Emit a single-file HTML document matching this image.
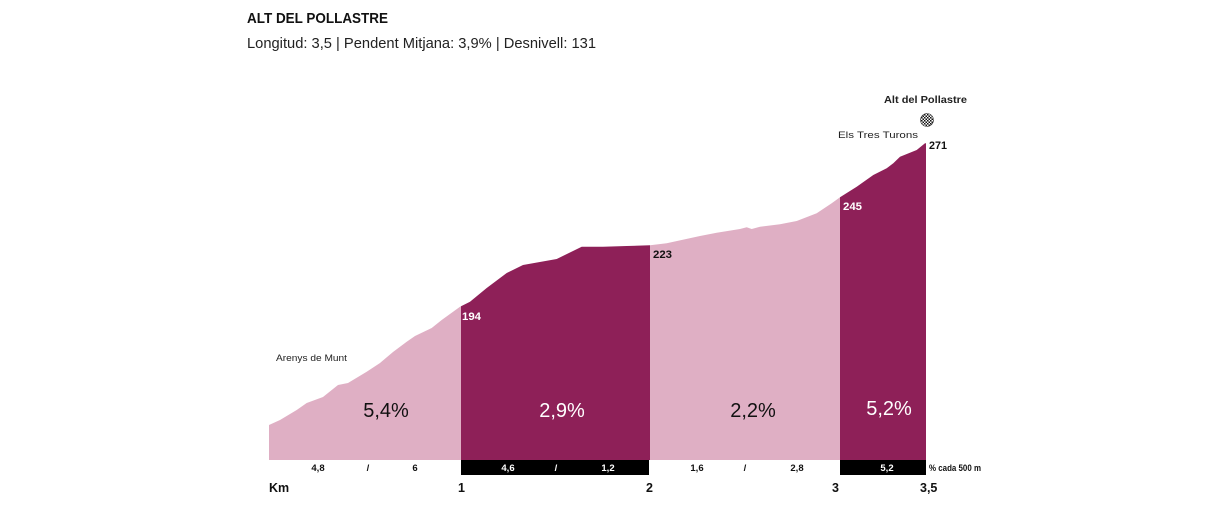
<!DOCTYPE html>
<html><head><meta charset="utf-8"><style>
html,body{margin:0;padding:0;background:#fff;width:1222px;height:512px;overflow:hidden}
svg{display:block}
text{font-family:"Liberation Sans",sans-serif}
</style></head><body>
<svg width="1222" height="512" viewBox="0 0 1222 512" xmlns="http://www.w3.org/2000/svg">
<defs>
<clipPath id="prof"><path d="M269,425 L280,420 L296.7,410 L306.7,403 L323,397 L338,385 L348,383 L366.7,371.7 L380,363 L393,352 L406.7,341.7 L415,336 L431.7,328 L441.7,320 L460,306.7 L470,301.7 L486.7,288 L506.7,273 L523,265 L556.7,259 L581.7,246.7 L603,246.7 L626.7,246 L650,245.3 L666.7,243.3 L700,236 L716.7,232.7 L740,229 L746.7,227.3 L751.7,229 L760,226.7 L780,224.3 L796.7,221 L816.7,213.3 L831.7,203.3 L840,197.3 L856.7,186.7 L873.3,175 L886.7,168.3 L893.3,163.3 L900,156.7 L916.7,150 L925,143.3 L926,143.3 L926,460 L269,460 Z"/></clipPath>
<pattern id="chk" width="3" height="3" patternUnits="userSpaceOnUse"><rect width="3" height="3" fill="#fff"/><rect width="1.5" height="1.5" fill="#111"/><rect x="1.5" y="1.5" width="1.5" height="1.5" fill="#111"/></pattern>
</defs>
<text x="247" y="23" font-size="15" font-weight="bold" fill="#111" textLength="141" lengthAdjust="spacingAndGlyphs">ALT DEL POLLASTRE</text>
<text x="247" y="48" font-size="14.5" fill="#222" textLength="349" lengthAdjust="spacingAndGlyphs">Longitud: 3,5  |  Pendent Mitjana: 3,9%  |  Desnivell: 131</text>

<g clip-path="url(#prof)">
<rect x="269" y="100" width="192" height="360" fill="#dfafc4"/>
<rect x="461" y="100" width="189" height="360" fill="#8e2058"/>
<rect x="650" y="100" width="190" height="360" fill="#dfafc4"/>
<rect x="840" y="100" width="86" height="360" fill="#8e2058"/>
</g>

<rect x="461" y="460" width="188" height="15" fill="#000"/>
<rect x="840" y="460" width="86" height="15" fill="#000"/>

<text x="386" y="417" font-size="20" text-anchor="middle" fill="#111">5,4%</text>
<text x="562" y="417" font-size="20" text-anchor="middle" fill="#fff">2,9%</text>
<text x="753" y="417" font-size="20" text-anchor="middle" fill="#111">2,2%</text>
<text x="889" y="415" font-size="20" text-anchor="middle" fill="#fff">5,2%</text>

<text x="462" y="320" font-size="11" font-weight="bold" fill="#fff" textLength="19" lengthAdjust="spacingAndGlyphs">194</text>
<text x="653" y="258" font-size="11" font-weight="bold" fill="#111" textLength="19" lengthAdjust="spacingAndGlyphs">223</text>
<text x="843" y="210" font-size="11" font-weight="bold" fill="#fff" textLength="19" lengthAdjust="spacingAndGlyphs">245</text>
<text x="929" y="149" font-size="11" font-weight="bold" fill="#111" textLength="18" lengthAdjust="spacingAndGlyphs">271</text>

<text x="276" y="361" font-size="9.5" fill="#222" textLength="71" lengthAdjust="spacingAndGlyphs">Arenys de Munt</text>
<text x="838" y="138" font-size="9.5" fill="#222" textLength="80" lengthAdjust="spacingAndGlyphs">Els Tres Turons</text>
<text x="884" y="103" font-size="10.5" font-weight="bold" fill="#222" textLength="83" lengthAdjust="spacingAndGlyphs">Alt del Pollastre</text>
<circle cx="927" cy="120" r="6.5" fill="url(#chk)" stroke="#333" stroke-width="0.6"/>

<g font-size="9.5" font-weight="bold" text-anchor="middle">
<text x="318" y="471" fill="#111">4,8</text>
<text x="368" y="471" fill="#111">/</text>
<text x="415" y="471" fill="#111">6</text>
<text x="508" y="471" fill="#fff">4,6</text>
<text x="556" y="471" fill="#fff">/</text>
<text x="608" y="471" fill="#fff">1,2</text>
<text x="697" y="471" fill="#111">1,6</text>
<text x="745" y="471" fill="#111">/</text>
<text x="797" y="471" fill="#111">2,8</text>
<text x="887" y="471" fill="#fff">5,2</text>
</g>
<text x="929" y="471" font-size="9" font-weight="bold" fill="#111" textLength="52" lengthAdjust="spacingAndGlyphs">% cada 500 m</text>

<g font-size="12.5" font-weight="bold" fill="#111">
<text x="269" y="492">Km</text>
<text x="458" y="492">1</text>
<text x="646" y="492">2</text>
<text x="832" y="492">3</text>
<text x="920" y="492">3,5</text>
</g>
</svg>
</body></html>
